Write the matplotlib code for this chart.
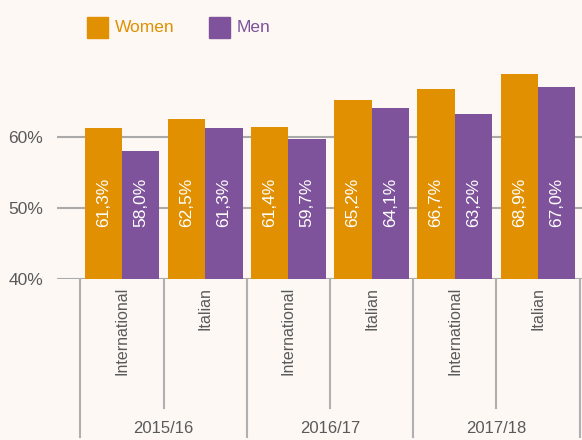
import matplotlib.pyplot as plt
import matplotlib.transforms as mtransforms
import numpy as np

# data
years = ["2015/16", "2016/17", "2017/18"]
groups = ["International", "Italian"]
women = [61.3, 62.5, 61.4, 65.2, 66.7, 68.9]
men = [58.0, 61.3, 59.7, 64.1, 63.2, 67.0]
series = ["Women", "Men"]

orange = "#e09000"
purple = "#7f539c"
bg = "#fdf8f4"
grey = "#5a5a5a"

plt.rcParams['font.family'] = ['Liberation Sans', 'DejaVu Sans']

fig = plt.figure(figsize=(5.82, 4.40), dpi=100, facecolor=bg)
W, H = 582, 440
ax = fig.add_axes([57 / W, 1 - 279 / H, 525 / W, 219 / H])
ax.set_facecolor(bg)

x = np.arange(len(women))
bw = 0.45
ax.bar(x - bw / 2, women, bw, bottom=0, color=orange, zorder=3)
ax.bar(x + bw / 2, men, bw, bottom=0, color=purple, zorder=3)

for xi, w, m in zip(x, women, men):
    for xx, v in ((xi - bw / 2, w), (xi + bw / 2, m)):
        ax.text(xx, 47.3, f"{v:.1f}%".replace(".", ","), rotation=90,
                ha="center", va="bottom", color="white", fontsize=12.5, zorder=4)

ax.set_xlim(-0.781, 5.529)
ax.set_ylim(40, 70.85)
ax.set_yticks([40, 50, 60])
ax.set_yticklabels(["40%", "50%", "60%"])
ax.tick_params(axis="y", length=0, pad=10, labelsize=12.5, labelcolor=grey)
ax.set_xticks([])
for s in ax.spines.values():
    s.set_visible(False)
ax.grid(axis="y", color="#aaaaaa", linewidth=1.5, zorder=1)

# category labels and separators under the axis
trans = mtransforms.blended_transform_factory(ax.transData, fig.transFigure)
for i in range(len(women)):
    ax.text(i, 1 - 287 / H, groups[i % 2], rotation=90, ha="center", va="top",
            color=grey, fontsize=11.5, transform=trans)
for i in range(len(women) + 1):
    ybot = 1 - 437 / H if i % 2 == 0 else 1 - 408 / H
    ax.plot([i - 0.5, i - 0.5], [1 - 279 / H, ybot], color="#b0b0b0",
            linewidth=1.5, transform=trans, clip_on=False)
for j, yr in enumerate(years):
    ax.text(2 * j + 0.5, 1 - 428 / H, yr, ha="center", va="center",
            color=grey, fontsize=12, transform=trans)

# legend
for sx, name, col in ((87, series[0], orange), (209, series[1], purple)):
    fig.patches.append(plt.Rectangle((sx / W, 1 - 38 / H), 21 / W, 21 / H,
                                     color=col, transform=fig.transFigure))
    fig.text((sx + 28) / W, 1 - 27.5 / H, name, color=col, fontsize=12.5,
             va="center", ha="left")

fig.savefig("out.png", dpi=100, facecolor=bg)
